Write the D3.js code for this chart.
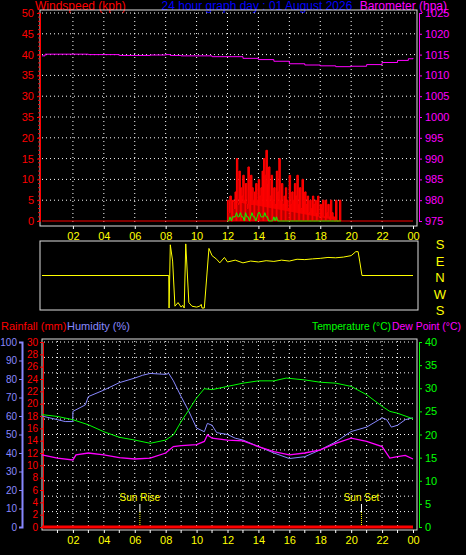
<!DOCTYPE html><html><head><meta charset="utf-8">
<script src="https://cdn.jsdelivr.net/npm/d3@7"></script>
<style>body{margin:0;background:#000}svg{display:block;font-family:"Liberation Sans",Arial,sans-serif}</style>
</head><body><svg id="c" width="466" height="555"></svg>
<script>
const hourTicks=[2,4,6,8,10,12,14,16,18,20,22,24];
const hourLabels=["02","04","06","08","10","12","14","16","18","20","22","00"];
const windTicks=[0,5,10,15,20,25,30,35,40,45,50];
const windTickLabels=["0","5","10","15","20","35","30","35","40","45","50"];
const baroTicks=[975,980,985,990,995,1000,1005,1010,1015,1020,1025];
const baroHours=[0,0.2,1,3,5,7,8,8.3,9,11,13,14,15,16,17,18,19,20,21,22,23,23.7,24];
const baroValues=[1014.7,1015.1,1015.1,1015,1014.8,1014.9,1015,1014.8,1014.7,1014.5,1014.1,1013.8,1013.4,1012.8,1012.5,1012.3,1012.1,1012.2,1012.6,1013.1,1013.6,1014,1014.2];
const gustStart=12, gustStep=5/60;
const gustValues=[5,2,6,0,5,3,7,15,4,12,8,6,11,5,9,3,13,0,11,8,5,7,9,5,10,6,8,12,15,11,17,9,13,6,11,5,8,4,12,7,15,5,9,4,6,8,5,3,11,4,7,5,9,6,11,4,8,3,10,5,7,4,6,2,5,3,6,4,5,2,6,1,4,3,5,1,5,2,4,1,5,2,1,0,5,0,0,5,0];
const avgValues=[0,0,1,0,1,1,1,2,1,1,2,1,1,0,2,1,1,0,1,2,1,1,0,1,2,2,1,1,1,2,1,1,0,0,0,0,1,0,1,0,0,0,0,0,0,0,0,0,0,0,0,0,0,0,0,0,0,0,0,0,0,0,0,0,0,0,0,0,0,0,0,0,0,0,0,0,0,0,0,0,0,0,0,0,0,0,0,0,0];
const dirLabels=["S","E","N","W","S"];
const dirHours=[0,8.2,8.22,8.3,8.45,8.6,8.8,9.0,9.1,9.2,9.3,9.5,9.7,10.0,10.2,10.3,10.35,10.5,10.8,11.0,11.3,11.5,11.8,12.0,12.5,13,13.5,14,14.5,15,15.5,16,16.5,17,17.5,18,18.5,19,19.5,20,20.3,20.45,20.55,20.7,24];
const dirValues=[0,0,-180,170,80,-170,-150,-175,-165,-180,175,-150,-170,-175,-170,-160,-180,-180,150,110,90,70,100,75,85,70,80,75,82,78,85,80,90,88,92,95,100,98,102,110,132,132,80,0,0];
const humTicks=[0,10,20,30,40,50,60,70,80,90,100];
const rainTicks=[0,2,4,6,8,10,12,14,16,18,20,22,24,26,28,30];
const tempTicks=[0,5,10,15,20,25,30,35,40];
const humHours=[0,1,1.5,1.99,2,2.8,3,4,5,6,6.5,7,8,8.2,8.5,9,9.5,10,10.5,10.7,11,11.3,12,12.5,13,14,15,16,17,18,19,20,21,22,22.3,22.6,23,23.5,24];
const humValues=[60,58,57,57,62.5,66,70.5,74,78,80.5,82,83,82.5,83,79,70.5,62.5,53.5,51.5,56,55,51,50,48,47,43.5,40,37,38,41.7,46,51.6,54,59,58,54,55,58,59];
const tempHours=[0,1,2,3,4,5,6,7,8,8.5,9,9.5,10,10.5,11,12,13,14,15,15.8,17,18,19,20,21,22,22.5,23,24];
const tempValues=[24.3,23.9,23.2,22.1,20.6,19.4,18.8,18.1,18.8,19.9,22.8,25.3,27.9,29.9,29.7,30.4,31.1,31.6,31.6,32.2,31.8,31.3,31.1,30.4,28.6,26.1,25,24.6,23.4];
const dewHours=[0,1,2,2.2,3,4,5,6,7,8,8.5,9,10,10.5,10.7,11,12,13,14,15,16,17,18,19,20,21,22,22.5,23,23.5,24];
const dewValues=[15.6,14.9,14.5,15.6,16,15.6,15,14.7,14.9,16,17.4,17.6,17.8,18.5,19.9,19.2,18.8,18.6,17.4,16.3,15.6,16,16.7,18.1,19.2,18.5,17.4,14.9,15.2,15.5,14.7];
const rainValue=0;
const sunRise=6+20/60, sunSet=20+40/60;

const svg=d3.select("#c");
const x=d3.scaleLinear().domain([0,24]).range([42,413]);
const fs="11px";
function txt(t,xx,yy,col,anchor){return svg.append("text").attr("x",xx).attr("y",yy).attr("fill",col).attr("font-size",fs).attr("text-anchor",anchor||"start").text(t);}
txt("Windspeed (kph)",35,10,"#f00").attr("font-size","12px");
txt("24 hour graph day : 01 August 2026",257,10,"#00f","middle").attr("font-size","12px");
txt("Barometer (hpa)",447,10,"#f0f","end").attr("font-size","12px");

const yW=d3.scaleLinear().domain([0,50]).range([221,13]);
const yB=d3.scaleLinear().domain([975,1025]).range([221,13]);
svg.append("rect").attr("x",40).attr("y",10).attr("width",377).attr("height",216).attr("fill","none").attr("stroke","#ddd").attr("stroke-width",1);
const gTop=svg.append("g");
windTicks.slice(1).forEach(v=>gTop.append("line").attr("x1",42).attr("x2",415).attr("y1",yW(v)).attr("y2",yW(v)).attr("stroke","#fff").attr("stroke-dasharray","1,3"));
hourTicks.slice(0,-1).forEach(h=>gTop.append("line").attr("x1",x(h)).attr("x2",x(h)).attr("y1",13).attr("y2",224).attr("stroke","#fff").attr("stroke-dasharray","1,3"));
const axL=svg.append("g").attr("transform","translate(40,0)").call(d3.axisLeft(yW).tickValues(windTicks).tickFormat((d,i)=>windTickLabels[i]).tickSize(3));
axL.selectAll("line").attr("stroke","#f00");axL.select(".domain").attr("stroke","#f00");
axL.selectAll("text").attr("fill","#f00").attr("font-size",fs).attr("font-family","Liberation Sans");
svg.append("g").attr("transform","translate(38,0)").selectAll("line").data(d3.range(0,51,1)).join("line").attr("x1",0).attr("x2",2).attr("y1",d=>yW(d)).attr("y2",d=>yW(d)).attr("stroke","#f00");
const axR=svg.append("g").attr("transform","translate(419,0)").call(d3.axisRight(yB).tickValues(baroTicks).tickSize(3).tickFormat(d3.format("d")));
axR.selectAll("line").attr("stroke","#f0f");axR.select(".domain").attr("stroke","#f0f");
axR.selectAll("text").attr("fill","#f0f").attr("font-size",fs).attr("font-family","Liberation Sans");
const axB=svg.append("g").attr("transform","translate(0,226)").call(d3.axisBottom(x).tickValues(hourTicks).tickFormat((d,i)=>hourLabels[i]).tickSize(3));
axB.select(".domain").remove();axB.selectAll("line").attr("stroke","#fff");
axB.selectAll("text").attr("fill","#ff0").attr("font-size",fs).attr("font-family","Liberation Sans");
const gx=i=>gustStart+i*gustStep;
svg.append("line").attr("x1",x(0)).attr("x2",x(24)).attr("y1",yW(0)).attr("y2",yW(0)).attr("stroke","#f00");
svg.append("g").selectAll("line").data(gustValues).join("line").attr("x1",(d,i)=>x(gx(i))).attr("x2",(d,i)=>x(gx(i))).attr("y1",yW(0)).attr("y2",d=>yW(d)).attr("stroke","#f00").attr("stroke-width",1.2);
svg.append("path").datum(gustValues).attr("d",d3.line().x((d,i)=>x(gx(i))).y(d=>yW(d)).curve(d3.curveStepAfter)).attr("fill","#f00").attr("fill-opacity",0.85).attr("stroke","#f00");
svg.append("path").datum(avgValues).attr("d",d3.line().x((d,i)=>x(gx(i))).y(d=>yW(d))).attr("fill","none").attr("stroke","#0f0").attr("stroke-width",1);
svg.append("path").datum(baroHours.map((h,i)=>[h,baroValues[i]])).attr("d",d3.line().x(d=>x(d[0])).y(d=>yB(d[1])).curve(d3.curveStepAfter)).attr("fill","none").attr("stroke","#f0f");

const yD=d3.scaleLinear().domain([-180,180]).range([308,243]);
svg.append("rect").attr("x",40).attr("y",241).attr("width",378).attr("height",69).attr("fill","none").attr("stroke","#ddd");
svg.append("path").datum(dirHours.map((h,i)=>[h,dirValues[i]])).attr("d",d3.line().x(d=>x(d[0])).y(d=>yD(d[1]))).attr("fill","none").attr("stroke","#ff0");
const yDl=d3.scalePoint().domain(d3.range(5)).range([244,310]);
dirLabels.forEach((l,i)=>txt(l,440,yDl(i)+5,"#ff0","middle").attr("font-size","13px"));

txt("Rainfall (mm)",1,330,"#f00");txt("Humidity (%)",67,330,"#88f");
txt("Temperature (°C)",312,330,"#0f0").attr("textLength",79).attr("lengthAdjust","spacingAndGlyphs");
txt("Dew Point (°C)",392,330,"#f0f").attr("textLength",69).attr("lengthAdjust","spacingAndGlyphs");
const yH=d3.scaleLinear().domain([0,100]).range([527,342]);
const yR=d3.scaleLinear().domain([0,30]).range([527,342]);
const yT=d3.scaleLinear().domain([0,40]).range([527,342]);
svg.append("rect").attr("x",42).attr("y",339).attr("width",375).attr("height",191).attr("fill","none").attr("stroke","#ddd");
const gB=svg.append("g");
d3.range(1,13).forEach(k=>{const yy=527-k*185/12;gB.append("line").attr("x1",44).attr("x2",415).attr("y1",yy).attr("y2",yy).attr("stroke","#fff").attr("stroke-dasharray","1,3");});
d3.range(1,24).forEach(h=>gB.append("line").attr("x1",x(h)).attr("x2",x(h)).attr("y1",341).attr("y2",528).attr("stroke","#fff").attr("stroke-dasharray","1,3"));
const aH=svg.append("g").attr("transform","translate(22,0)").call(d3.axisLeft(yH).tickValues(humTicks).tickSize(3).tickPadding(2));
aH.selectAll("line,.domain").attr("stroke","#88f");aH.select(".domain").attr("stroke-width",2);
aH.selectAll("text").attr("fill","#88f").attr("font-size","10px").attr("font-family","Liberation Sans");
const aR=svg.append("g").attr("transform","translate(43,0)").call(d3.axisLeft(yR).tickValues(rainTicks).tickSize(3).tickPadding(2));
aR.selectAll("line,.domain").attr("stroke","#f00");
aR.selectAll("text").attr("fill","#f00").attr("font-size","10px").attr("font-family","Liberation Sans");
const aT=svg.append("g").attr("transform","translate(419,0)").call(d3.axisRight(yT).tickValues(tempTicks).tickSize(3));
aT.selectAll("line,.domain").attr("stroke","#0f0");
aT.selectAll("text").attr("fill","#0f0").attr("font-size",fs).attr("font-family","Liberation Sans");
const aB2=svg.append("g").attr("transform","translate(0,530)").call(d3.axisBottom(x).tickValues(hourTicks).tickFormat((d,i)=>hourLabels[i]).tickSize(3));
aB2.select(".domain").remove();aB2.selectAll("line").attr("stroke","#fff");
aB2.selectAll("text").attr("fill","#ff0").attr("font-size",fs).attr("font-family","Liberation Sans");
svg.append("g").attr("transform","translate(0,530)").selectAll("line").data(d3.range(1,24,2)).join("line").attr("x1",d=>x(d)).attr("x2",d=>x(d)).attr("y1",0).attr("y2",3).attr("stroke","#fff");
[[sunRise,"Sun Rise"],[sunSet,"Sun Set"]].forEach(([h,l])=>{
 svg.append("line").attr("x1",x(h)).attr("x2",x(h)).attr("y1",504).attr("y2",512).attr("stroke","#fff");
 svg.append("line").attr("x1",x(h)).attr("x2",x(h)).attr("y1",512).attr("y2",527).attr("stroke","#ff0").attr("stroke-dasharray","1,1");
 txt(l,x(h),501,"#ff0","middle").attr("font-size","10px");});
const ln=(hs,vs,y)=>d3.line().x((d,i)=>x(hs[i])).y(d=>y(d))(vs);
svg.append("path").attr("d",ln(humHours,humValues,yH)).attr("fill","none").attr("stroke","#88f");
svg.append("path").attr("d",ln(tempHours,tempValues,yT)).attr("fill","none").attr("stroke","#0f0");
svg.append("path").attr("d",ln(dewHours,dewValues,yT)).attr("fill","none").attr("stroke","#f0f").attr("stroke-width",1.3);
svg.append("line").attr("x1",x(0)).attr("x2",x(24)).attr("y1",yR(rainValue)).attr("y2",yR(rainValue)).attr("stroke","#f00").attr("stroke-width",3);
</script></body></html>
